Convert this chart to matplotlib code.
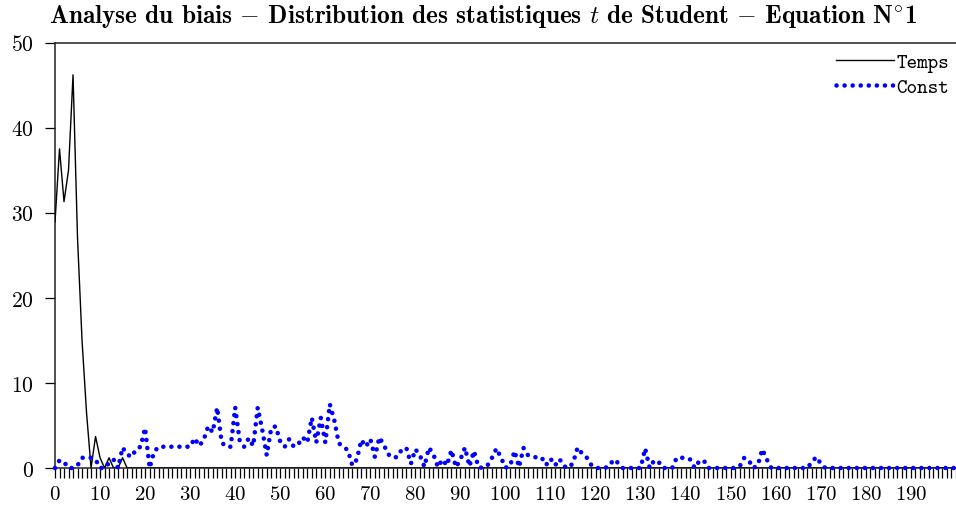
import numpy as np
import matplotlib
matplotlib.use("Agg")
import matplotlib.pyplot as plt
from matplotlib.ticker import MultipleLocator

plt.rcParams['font.family'] = ['cmr10', 'DejaVu Serif']
plt.rcParams['mathtext.fontset'] = 'cm'
plt.rcParams['axes.formatter.use_mathtext'] = True

#%% donnees : frequences des t de Student par classe (0..200)
classes = list(range(201))

temps = [28.9, 37.5, 31.3, 35.0, 46.2, 27.0, 15.0, 6.5, 0.0, 3.7,
         1.2, 0.0, 1.2, 0.0, 0.0, 1.2, 0.0, 0.0, 0.0, 0.0,
         0, 0, 0, 0, 0, 0, 0, 0, 0, 0,
         0, 0, 0, 0, 0, 0, 0, 0, 0, 0,
         0, 0, 0, 0, 0, 0, 0, 0, 0, 0,
         0, 0, 0, 0, 0, 0, 0, 0, 0, 0,
         0, 0, 0, 0, 0, 0, 0, 0, 0, 0,
         0, 0, 0, 0, 0, 0, 0, 0, 0, 0,
         0, 0, 0, 0, 0, 0, 0, 0, 0, 0,
         0, 0, 0, 0, 0, 0, 0, 0, 0, 0,
         0, 0, 0, 0, 0, 0, 0, 0, 0, 0,
         0, 0, 0, 0, 0, 0, 0, 0, 0, 0,
         0, 0, 0, 0, 0, 0, 0, 0, 0, 0,
         0, 0, 0, 0, 0, 0, 0, 0, 0, 0,
         0, 0, 0, 0, 0, 0, 0, 0, 0, 0,
         0, 0, 0, 0, 0, 0, 0, 0, 0, 0,
         0, 0, 0, 0, 0, 0, 0, 0, 0, 0,
         0, 0, 0, 0, 0, 0, 0, 0, 0, 0,
         0, 0, 0, 0, 0, 0, 0, 0, 0, 0,
         0, 0, 0, 0, 0, 0, 0, 0, 0, 0,
         0]

const = [0.0, 0.9, 0.7, 0.0, 0.0, 0.3, 1.2, 1.2, 1.2, 1.0,
         0.0, 0.0, 0.6, 1.0, 0.0, 2.4, 1.6, 1.3, 2.2, 2.5,
         4.7, 0.0, 1.9, 2.5, 2.5, 2.5, 2.5, 2.5, 2.5, 2.5,
         2.5, 3.5, 2.6, 3.3, 4.9, 4.2, 7.1, 3.0, 2.5, 2.5,
         7.1, 3.2, 2.5, 3.5, 2.6, 7.1, 4.5, 1.5, 4.7, 4.9,
         3.1, 2.5, 3.4, 2.5, 2.8, 3.6, 3.0, 5.9, 3.0, 5.9,
         3.0, 7.5, 5.6, 2.9, 2.5, 2.1, 0.3, 1.0, 3.3, 2.5,
         3.4, 1.3, 3.6, 2.7, 1.6, 1.2, 1.3, 2.2, 2.35, 0.5,
         2.2, 1.5, 0.15, 2.4, 1.6, 0.1, 1.0, 0.3, 2.1, 0.1,
         1.0, 2.4, 0.2, 2.0, 0.1, 0.0, 0.3, 1.2, 2.3, 1.2,
         0.05, 0.2, 2.0, 0.1, 2.35, 1.5, 1.3, 1.25, 1.25, 0.35,
         1.1, 0.3, 1.05, 0.2, 0.0, 0.6, 2.4, 1.7, 1.25, 0.4,
         0.0, 0.0, 0.0, 0.2, 1.0, 0.6, 0.0, 0.0, 0.0, 0.0,
         0.0, 2.3, 0.0, 0.9, 0.7, 0.0, 0.0, 0.0, 1.2, 1.2,
         1.2, 1.0, 0.0, 0.8, 0.9, 0.0, 0.0, 0.0, 0.0, 0.0,
         0.0, 0.0, 0.2, 1.2, 0.9, 0.0, 0.3, 2.2, 1.0, 0.0,
         0.0, 0.0, 0.0, 0.0, 0.0, 0.0, 0.0, 0.0, 0.7, 1.3,
         0.5, 0.0, 0.0, 0.0, 0.0, 0.0, 0.0, 0.0, 0.0, 0.0,
         0.0, 0.0, 0.0, 0.0, 0.0, 0.0, 0.0, 0.0, 0.0, 0.0,
         0.0, 0.0, 0.0, 0.0, 0.0, 0.0, 0.0, 0.0, 0.0, 0.0,
         0.0]

# tirets et degre en mathtext (cmb10 n'a pas ces glyphes)
titre = r"Analyse du biais $-$ Distribution des statistiques $t$ de Student $-$ Equation N$^{\circ}$1"

#%% figure
fig = plt.figure(figsize=(9.56, 5.10), dpi=100)
ax = fig.add_axes([55/956, 41/510, 901/956, 425.5/510])

ax.plot(classes, temps, color='black', lw=1.0, label='Temps', zorder=3)
ax.plot(classes, const, color='blue', lw=3.3, linestyle=(0, (0.01, 1.75)),
        dash_capstyle='round', label='Const', clip_on=False, zorder=4)

ax.set_xlim(0, 200)
ax.set_ylim(0, 50)
ax.xaxis.set_major_locator(MultipleLocator(10))
ax.xaxis.set_minor_locator(MultipleLocator(1))
ax.yaxis.set_major_locator(MultipleLocator(10))
ax.set_xticks([t for t in range(0, 200, 10)])
ax.tick_params(axis='x', which='both', direction='out', length=7.2, width=0.9,
               labelsize=15, pad=5)
ax.tick_params(axis='y', direction='out', length=7.2, width=0.9,
               labelsize=15.5, pad=8)
for s in ['left', 'bottom', 'top']:
    ax.spines[s].set_linewidth(1.1)
    ax.spines[s].set_color('#222222')
ax.spines['right'].set_visible(False)

leg = fig.legend(loc='upper right', bbox_to_anchor=(949/956, (510-54)/510),
                 frameon=False, prop={'family': 'cmtt10', 'size': 14.5},
                 handlelength=2.9, handletextpad=0.1, labelspacing=0.3,
                 borderpad=0, borderaxespad=0)

fig.text(49/956, 1 - 17/510, titre, ha='left', va='center', fontsize=18.2,
         fontweight='bold', family=['cmb10', 'DejaVu Serif'])

fig.savefig('out.png', dpi=100)
